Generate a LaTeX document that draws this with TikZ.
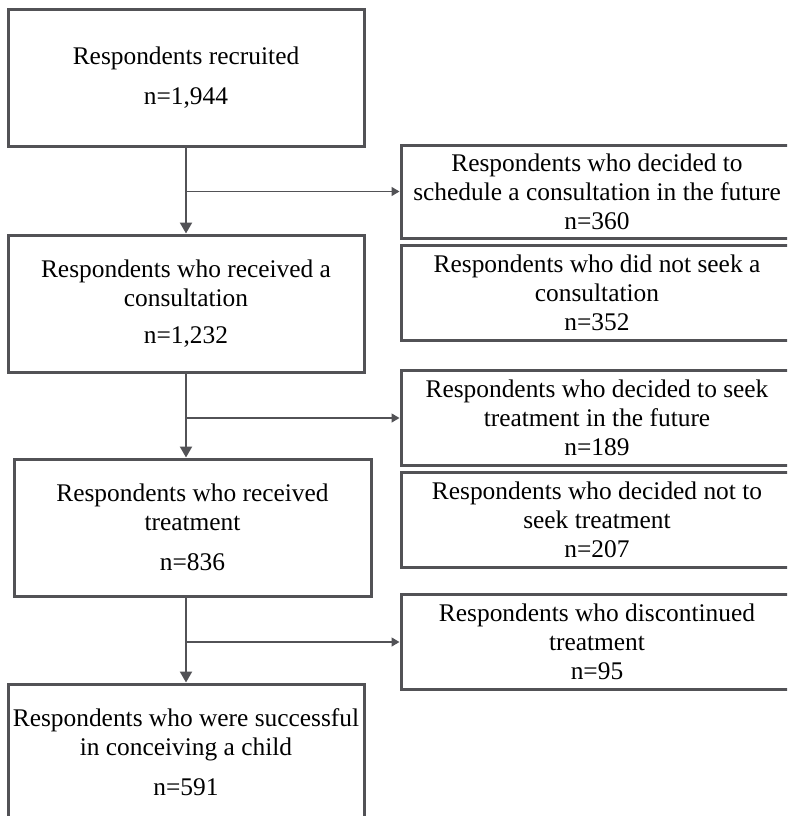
\documentclass[tikz,border=0pt]{standalone}
\usepackage{fontspec}
\setmainfont{Liberation Serif}
\usetikzlibrary{arrows.meta}
\definecolor{boxgray}{RGB}{82,82,86}
\tikzset{lb/.style={draw=boxgray, line width=3pt, align=center, inner sep=2pt, minimum width=356pt, minimum height=137pt}}
\tikzset{rb/.style={draw=boxgray, line width=3pt, align=center, inner sep=2pt, minimum width=392pt, minimum height=95pt}}
\tikzset{dn/.style={draw=boxgray, line width=2.2pt, -{Triangle[width=12pt,length=11pt]}}}
\tikzset{sd/.style={draw=boxgray, line width=1.4pt, -{Triangle[width=9pt,length=8pt]}}}

\begin{document}
\begin{tikzpicture}[x=1pt,y=-1pt]
        \useasboundingbox (0,0) rectangle (787,816);
        \clip (0,0) rectangle (787,816);
        \begin{scope}[font=\fontsize{25.4}{29}\selectfont]
          \node[lb, minimum height=136pt] (R) at (186,78) {Respondents recruited\\[11pt]n=1,944};
          \node[lb] (C) at (186,303.5) {Respondents who received a\\consultation\\[8pt]n=1,232};
          \node[lb, minimum width=357pt] (T) at (192.5,527.5) {Respondents who received\\treatment\\[11pt]n=836};
          \node[lb] (S) at (186,752.5) {Respondents who were successful\\in conceiving a child\\[11pt]n=591};
          \node[rb, minimum height=93pt] (F1) at (597,191.5) {Respondents who decided to\\schedule a consultation in the future\\n=360};
          \node[rb] (N1) at (597,293) {Respondents who did not seek a\\consultation\\n=352};
          \node[rb] (F2) at (597,418) {Respondents who decided to seek\\treatment in the future\\n=189};
          \node[rb] (N2) at (597,520) {Respondents who decided not to\\seek treatment\\n=207};
          \node[rb] (D) at (597,642) {Respondents who discontinued\\treatment\\n=95};
        \end{scope}
        \draw[dn] (R) -- (C);
        \draw[dn] (C.south) -- (C.south |- T.north);
        \draw[dn] (S.north |- T.south) -- (S);
        \draw[sd] (R.south |- F1) -- (F1);
        \draw[sd] (C.south |- F2) -- (F2);
        \draw[sd] (S.north |- D) -- (D);
      \end{tikzpicture}
\end{document}
